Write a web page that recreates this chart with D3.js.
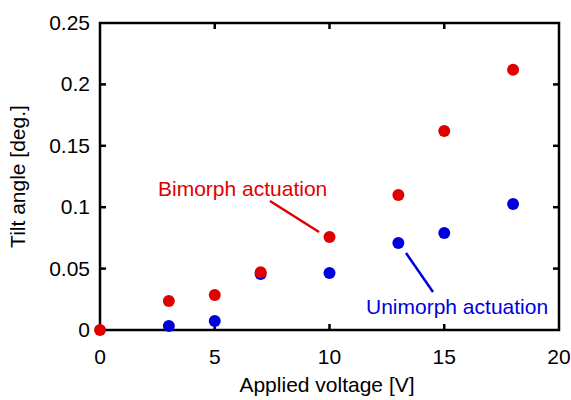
<!DOCTYPE html>
<html>
<head>
<meta charset="utf-8">
<script src="https://cdn.jsdelivr.net/npm/d3@7"></script>
<style>
  body { margin: 0; background: #fff; }
  text { font-family: "Liberation Sans", Arial, sans-serif; }
</style>
</head>
<body>
<script>
// Data
const voltage = [0, 3, 5, 7, 10, 13, 15, 18];
const bimorph = [0, 0.0236, 0.0285, 0.047, 0.0757, 0.110, 0.162, 0.212];
const unimorphV = [3, 5, 7, 10, 13, 15, 18];
const unimorph = [0.0033, 0.0073, 0.0456, 0.0464, 0.0708, 0.079, 0.1026];
const xTicks = [0, 5, 10, 15, 20];
const yTicks = [0, 0.05, 0.1, 0.15, 0.2, 0.25];

const red = "#e00000";
const blue = "#0000dd";
const fs = 21;

const width = 571, height = 400;
const margin = { left: 100, right: 12, top: 23, bottom: 70 };

const svg = d3.select("body").append("svg")
    .attr("width", width)
    .attr("height", height);

const x = d3.scaleLinear().domain([0, 20]).range([margin.left, 559]);
const y = d3.scaleLinear().domain([0, 0.25]).range([330, margin.top]);

const tickLen = 6;

// frame
svg.append("rect")
    .attr("x", x(0)).attr("y", y(0.25))
    .attr("width", x(20) - x(0)).attr("height", y(0) - y(0.25))
    .attr("fill", "none").attr("stroke", "#000").attr("stroke-width", 2.5);

// inner ticks on all sides
const g = svg.append("g").attr("stroke", "#000").attr("stroke-width", 2.5);
xTicks.slice(1, -1).forEach(t => {
    g.append("line").attr("x1", x(t)).attr("x2", x(t)).attr("y1", y(0)).attr("y2", y(0) - tickLen);
    g.append("line").attr("x1", x(t)).attr("x2", x(t)).attr("y1", y(0.25)).attr("y2", y(0.25) + tickLen);
});
yTicks.slice(1, -1).forEach(t => {
    g.append("line").attr("x1", x(0)).attr("x2", x(0) + tickLen).attr("y1", y(t)).attr("y2", y(t));
    g.append("line").attr("x1", x(20)).attr("x2", x(20) - tickLen).attr("y1", y(t)).attr("y2", y(t));
});

// tick labels
svg.append("g").selectAll("text").data(xTicks).join("text")
    .attr("x", d => x(d)).attr("y", 364)
    .attr("text-anchor", "middle").attr("font-size", fs)
    .text(d => d);
svg.append("g").selectAll("text").data(yTicks).join("text")
    .attr("x", 90).attr("y", d => y(d) + 7)
    .attr("text-anchor", "end").attr("font-size", fs)
    .text(d => d3.format("")(d));

// axis titles
svg.append("text")
    .attr("x", 327).attr("y", 392)
    .attr("text-anchor", "middle").attr("font-size", fs)
    .text("Applied voltage [V]");
svg.append("text")
    .attr("transform", `translate(25, ${(y(0) + y(0.25)) / 2}) rotate(-90)`)
    .attr("text-anchor", "middle").attr("font-size", fs)
    .text("Tilt angle [deg.]");

// points
svg.append("g").selectAll("circle").data(unimorphV).join("circle")
    .attr("cx", d => x(d)).attr("cy", (d, i) => y(unimorph[i]))
    .attr("r", 6).attr("fill", blue);
svg.append("g").selectAll("circle").data(voltage).join("circle")
    .attr("cx", d => x(d)).attr("cy", (d, i) => y(bimorph[i]))
    .attr("r", 6).attr("fill", red);

// annotations
svg.append("text")
    .attr("x", 158).attr("y", 196)
    .attr("font-size", fs).attr("fill", red)
    .text("Bimorph actuation");
svg.append("line")
    .attr("x1", 270).attr("y1", 201).attr("x2", 319).attr("y2", 232)
    .attr("stroke", red).attr("stroke-width", 2.5);

svg.append("text")
    .attr("x", 366).attr("y", 314)
    .attr("font-size", fs).attr("fill", blue)
    .text("Unimorph actuation");
svg.append("line")
    .attr("x1", 406).attr("y1", 253).attr("x2", 433).attr("y2", 292)
    .attr("stroke", blue).attr("stroke-width", 2.5);
</script>
</body>
</html>
